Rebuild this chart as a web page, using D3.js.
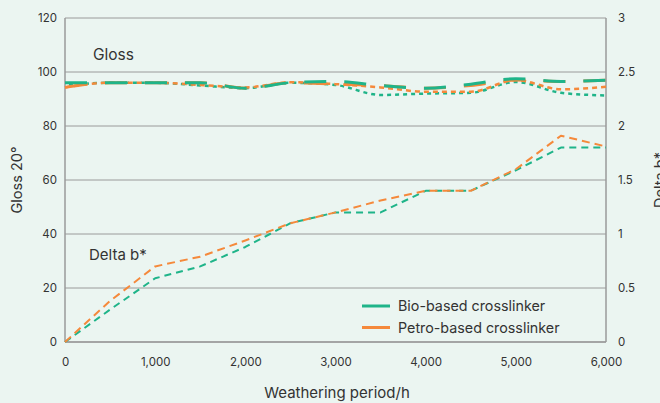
<!DOCTYPE html>
<html><head><meta charset="utf-8">
<script src="https://cdn.jsdelivr.net/npm/d3@7"></script>
<style>
html,body{margin:0;padding:0;background:#ebf5f1;}
svg{display:block;font-family:Inter, "Noto Sans", sans-serif;}
</style></head>
<body>
<svg id="c" width="660" height="403"></svg>
<script>
const hours = [0,500,1000,1500,2000,2500,3000,3500,4000,4500,5000,5500,6000];
const glossBioA   = [96,96,96,96,94,96,96.5,95,94,95.5,97.5,96.5,97];
const glossPetroA = [94.3,96,96,96,94,96,95.5,95,94,95,97,96.5,97];
const glossPetroB = [94.3,96,96,95.2,94.3,96.2,95.5,94.3,92.7,92.7,97,93.6,94.5];
const glossBioB   = [95,96,96,95,94,96,95.2,91.5,92,92.3,96.3,92.3,91.3];
const deltaBio    = [0,0.3,0.59,0.70,0.88,1.10,1.20,1.20,1.40,1.40,1.59,1.80,1.80];
const deltaPetro  = [0,0.38,0.70,0.79,0.94,1.10,1.20,1.31,1.40,1.40,1.60,1.91,1.81];
const xTicks = [0,1000,2000,3000,4000,5000,6000];
const glossTicks = [0,20,40,60,80,100,120];
const deltaTicks = [0,0.5,1,1.5,2,2.5,3];
const legendLabels = ["Bio-based crosslinker","Petro-based crosslinker"];

const green = "#1fb489", orange = "#f5893b", grid = "#9a9a9a", txt = "#333";
const svg = d3.select("#c");
const L = 65, R = 606, T = 18, B = 342;
const x = d3.scaleLinear().domain([0,6000]).range([L,R]);
const yG = d3.scaleLinear().domain([0,120]).range([B,T]);
const yD = d3.scaleLinear().domain([0,3]).range([B,T]);

svg.append("g").selectAll("line").data(glossTicks).join("line")
  .attr("x1",L).attr("x2",R).attr("y1",d=>yG(d)).attr("y2",d=>yG(d))
  .attr("stroke",grid).attr("stroke-width",1);
svg.append("line").attr("x1",L).attr("x2",L).attr("y1",T).attr("y2",B).attr("stroke",grid).attr("stroke-width",1.5);
svg.append("line").attr("x1",R).attr("x2",R).attr("y1",T).attr("y2",B).attr("stroke",grid).attr("stroke-width",1.5);
svg.append("line").attr("x1",L).attr("x2",R).attr("y1",B).attr("y2",B).attr("stroke",grid).attr("stroke-width",1.5);

const axL = d3.axisLeft(yG).tickValues(glossTicks).tickSize(0).tickPadding(8);
const gL = svg.append("g").attr("transform",`translate(${L},0)`).call(axL);
const axR = d3.axisRight(yD).tickValues(deltaTicks).tickSize(0).tickPadding(12).tickFormat(d3.format("~g"));
const gR = svg.append("g").attr("transform",`translate(${R},0)`).call(axR);
const axB = d3.axisBottom(x).tickValues(xTicks).tickSize(0).tickPadding(16).tickFormat(d3.format(","));
const gB = svg.append("g").attr("transform",`translate(0,${B})`).call(axB);
[gL,gR,gB].forEach(g=>{
  g.select(".domain").remove();
  g.selectAll("text").attr("font-size",11.5).attr("fill",txt).attr("font-family","Inter, sans-serif");
});

const lineG = (arr)=>d3.line().x((d,i)=>x(hours[i])).y(d=>yG(d)).curve(d3.curveMonotoneX)(arr);
const lineD = (arr)=>d3.line().x((d,i)=>x(hours[i])).y(d=>yD(d)).curve(d3.curveLinear)(arr);

svg.append("path").attr("d",lineG(glossBioB)).attr("fill","none").attr("stroke",green).attr("stroke-width",2.5).attr("stroke-dasharray","4,4").attr("stroke-dashoffset",4);
svg.append("path").attr("d",lineG(glossPetroB)).attr("fill","none").attr("stroke",orange).attr("stroke-width",2.5).attr("stroke-dasharray","5,4");
svg.append("path").attr("d",lineG(glossPetroA)).attr("fill","none").attr("stroke",orange).attr("stroke-width",3).attr("stroke-dasharray","22,18");
svg.append("path").attr("d",lineG(glossBioA)).attr("fill","none").attr("stroke",green).attr("stroke-width",3).attr("stroke-dasharray","22,18");

svg.append("path").attr("d",lineD(deltaBio)).attr("fill","none").attr("stroke",green).attr("stroke-width",2).attr("stroke-dasharray","7,5").attr("stroke-linejoin","round");
svg.append("path").attr("d",lineD(deltaPetro)).attr("fill","none").attr("stroke",orange).attr("stroke-width",2).attr("stroke-dasharray","8,5").attr("stroke-linejoin","round");

svg.append("text").attr("x",93).attr("y",60).attr("font-size",15.5).attr("fill",txt).text("Gloss");
svg.append("text").attr("x",89).attr("y",260).attr("font-size",15).attr("fill",txt).text("Delta b*");

svg.append("text").attr("transform","translate(22,180) rotate(-90)").attr("text-anchor","middle")
  .attr("font-size",14.5).attr("fill",txt).text("Gloss 20°");
svg.append("text").attr("transform","translate(665,180) rotate(-90)").attr("text-anchor","middle")
  .attr("font-size",14.5).attr("fill",txt).text("Delta b*");
svg.append("text").attr("x",337).attr("y",398).attr("text-anchor","middle")
  .attr("font-size",15).attr("fill",txt).text("Weathering period/h");

const leg = svg.append("g");
const legColors = [green, orange];
legendLabels.forEach((lab,i)=>{
  const yy = 306 + i*21.5;
  leg.append("line").attr("x1",362).attr("x2",390).attr("y1",yy).attr("y2",yy).attr("stroke",legColors[i]).attr("stroke-width",3);
  leg.append("text").attr("x",398).attr("y",yy+5).attr("font-size",14.3).attr("fill",txt).text(lab);
});
</script>
</body></html>
